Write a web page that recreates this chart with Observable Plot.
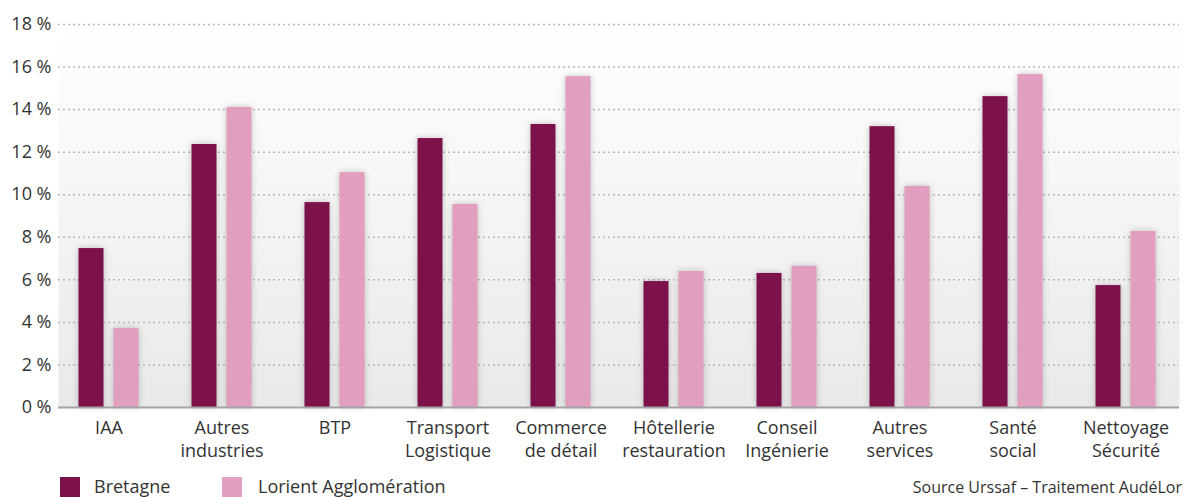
<!DOCTYPE html>
<html>
<head>
<meta charset="utf-8">
<script src="https://cdn.jsdelivr.net/npm/d3@7"></script>
<script src="https://cdn.jsdelivr.net/npm/@observablehq/plot@0.6"></script>
<style>
  html, body { margin: 0; padding: 0; background: #fff; }
  body { width: 1187px; height: 497px; overflow: hidden; font-family: "Open Sans", Roboto, sans-serif; color: #333; }
  #legend { position: relative; height: 27px; font-size: 18px; }
  .sw { position: absolute; top: 7px; width: 20px; height: 20px; }
  .lt { position: absolute; top: 4px; line-height: 24px; }
  #source { position: absolute; right: 5px; top: 6px; font-size: 16px; line-height: 22px; }
</style>
</head>
<body>
<div id="chart"></div>
<div id="legend">
  <div class="sw" style="left:60px;background:#7d124b"></div><div class="lt" style="left:94px">Bretagne</div>
  <div class="sw" style="left:222px;background:#e29ebe"></div><div class="lt" style="left:258px">Lorient Agglomération</div>
  <div id="source">Source Urssaf – Traitement AudéLor</div>
</div>
<script>
const categories = ["IAA", "Autres\nindustries", "BTP", "Transport\nLogistique", "Commerce\nde détail", "Hôtellerie\nrestauration", "Conseil\nIngénierie", "Autres\nservices", "Santé\nsocial", "Nettoyage\nSécurité"];
const bretagne = [7.47, 12.36, 9.63, 12.64, 13.30, 5.92, 6.30, 13.20, 14.61, 5.73];
const lorient = [3.71, 14.10, 11.04, 9.54, 15.55, 6.39, 6.63, 10.39, 15.65, 8.27];
const yTicks = [0, 2, 4, 6, 8, 10, 12, 14, 16, 18];

const data = categories.map((c, i) => ({cat: c, bretagne: bretagne[i], lorient: lorient[i]}));

const defs = () => {
  const ns = "http://www.w3.org/2000/svg";
  const d = document.createElementNS(ns, "defs");
  d.innerHTML = `<linearGradient id="bgGrad" x1="0" y1="0" x2="0" y2="1">
      <stop offset="0" stop-color="#ffffff"/>
      <stop offset="1" stop-color="#e9e9e9"/>
    </linearGradient>`;
  return d;
};

const shadow = "drop-shadow(0px 0px 3px rgba(0,0,0,0.22))";

const chart = Plot.plot({
  width: 1187,
  height: 470,
  marginLeft: 58,
  marginRight: 8,
  marginTop: 24,
  marginBottom: 63,
  style: {fontFamily: "'Open Sans', Roboto, sans-serif", fontSize: "18px", color: "#333", background: "#fff"},
  x: {domain: categories, range: [48, 1186], padding: 0, label: null},
  y: {domain: [0, 18], label: null},
  marks: [
    defs,
    Plot.frame({fill: "url(#bgGrad)", stroke: "none"}),
    Plot.ruleY(yTicks.filter(d => d > 0), {stroke: "#b8b8b8", strokeDasharray: "2,3", strokeWidth: 1.5}),
    Plot.barY(data, {x: "cat", y: "bretagne", fill: "#7d124b", dx: -17.5, insetLeft: 44, insetRight: 44, imageFilter: shadow}),
    Plot.barY(data, {x: "cat", y: "lorient", fill: "#e29ebe", dx: 17.5, insetLeft: 44, insetRight: 44, imageFilter: shadow}),
    Plot.ruleY([0], {stroke: "#a3a3a3", strokeWidth: 2}),
    Plot.axisY({ticks: yTicks, tickFormat: d => d + " %", tickSize: 0, tickPadding: 7, fontSize: 18, fill: "#333"}),
    Plot.axisX({tickSize: 0, tickPadding: 10, fontSize: 18, lineHeight: 1.27, fill: "#333"})
  ]
});
document.getElementById("chart").appendChild(chart);
</script>
</body>
</html>
